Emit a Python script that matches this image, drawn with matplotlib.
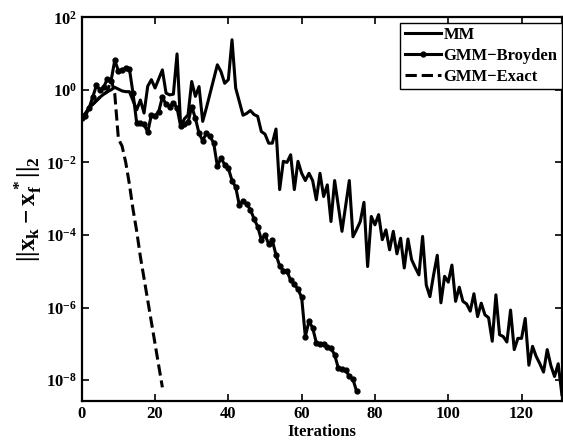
import matplotlib
matplotlib.use("Agg")
import matplotlib.pyplot as plt
import numpy as np

plt.rcParams['font.family'] = 'Liberation Serif'
plt.rcParams['font.weight'] = 'bold'
plt.rcParams['mathtext.fontset'] = 'custom'
plt.rcParams['mathtext.rm'] = 'Liberation Serif:bold'
plt.rcParams['mathtext.it'] = 'Liberation Serif:bold'
plt.rcParams['mathtext.bf'] = 'Liberation Serif:bold'

# log10 of the error
mm_log10 = [-0.77, -0.65, -0.5, -0.4, -0.3, -0.2, -0.12, -0.05, 0.0, 0.07,
            0.02, -0.03, -0.05, -0.05, -0.3, -0.55, -0.28, -0.64, 0.1, 0.28,
            0.05, 0.3, 0.55, -0.09, -0.14, -0.12, 0.99, -1.01, -0.8, -0.69,
            0.23, -0.18, 0.09, -0.87, -0.5, -0.1, 0.3, 0.69, 0.5, 0.18,
            0.28, 1.38, 0.05, -0.32, -0.7, -0.65, -0.57, -0.68, -0.73, -1.15,
            -1.22, -1.47, -1.47, -1.08, -2.75, -1.97, -2.0, -1.79, -2.75, -1.97,
            -2.3, -2.5, -2.3, -2.5, -3.03, -2.3, -2.94, -2.62, -3.63, -2.5,
            -3.2, -3.9, -3.2, -2.5, -4.05, -3.85, -3.63, -3.1, -4.87, -3.49,
            -3.72, -3.44, -4.13, -3.86, -4.41, -3.9, -4.52, -4.09, -4.91, -4.11,
            -4.68, -4.9, -5.1, -4.04, -5.38, -5.7, -5.1, -4.56, -5.87, -5.14,
            -5.3, -4.83, -5.83, -5.44, -5.83, -5.9, -6.1, -5.62, -6.25, -5.88,
            -6.2, -6.28, -6.93, -5.65, -6.75, -6.8, -6.95, -6.07, -7.16, -6.85,
            -6.85, -6.3, -7.59, -7.07, -7.35, -7.55, -7.78, -7.16, -7.6, -7.9,
            -7.55, -8.4]

broyden_log10 = [-0.78, -0.72, -0.5, -0.2, 0.12, 0.0, 0.08, 0.3, 0.25, 0.81,
                 0.53, 0.55, 0.6, 0.58, -0.1, -0.92, -0.92, -0.95, -1.17, -0.69,
                 -0.72, -0.6, -0.2, -0.4, -0.46, -0.35, -0.5, -1.01, -0.95, -0.9,
                 -0.46, -0.78, -1.2, -1.4, -1.2, -1.28, -1.47, -2.1, -1.88, -2.06,
                 -2.16, -2.5, -2.68, -3.18, -3.06, -3.15, -3.3, -3.55, -3.77, -4.13,
                 -4.0, -4.25, -4.15, -4.55, -4.85, -4.98, -5.0, -5.25, -5.35, -5.5,
                 -5.72, -6.8, -6.38, -6.56, -6.97, -7.0, -7.0, -7.1, -7.12, -7.3,
                 -7.67, -7.7, -7.72, -7.9, -7.98, -8.31]

exact_log10 = [-0.77, -0.65, -0.5, -0.4, -0.3, -0.2, -0.12, -0.05, 0.3, -0.1,
               -1.35, -1.55, -2.0, -2.6, -3.3, -3.9, -4.6, -5.2, -5.8, -6.4,
               -7.0, -7.6, -8.2]

mm = 10.0 ** np.array(mm_log10)
broyden = 10.0 ** np.array(broyden_log10)
exact = 10.0 ** np.array(exact_log10)

fig = plt.figure(figsize=(5.63, 4.43), dpi=100)
ax = fig.add_axes([0.1452, 0.0937, 0.8528, 0.8673])

ax.semilogy(range(len(mm)), mm, 'k-', lw=2.2, label='MM')
ax.semilogy(range(len(broyden)), broyden, 'k.-', lw=2.2, ms=7, label='GMM\u2212Broyden')
ax.semilogy(range(len(exact)), exact, 'k--', lw=2.2, label='GMM\u2212Exact')

ax.set_xlim(0, 131)
ax.set_ylim(10 ** -8.59, 1e2)
ax.set_xticks([0, 20, 40, 60, 80, 100, 120])
ax.set_yticks([1e-8, 1e-6, 1e-4, 1e-2, 1e0, 1e2])
ax.minorticks_off()
ax.tick_params(direction='in', top=True, right=True, labelsize=12, width=1.2, length=5)
for s in ax.spines.values():
    s.set_linewidth(1.6)

ax.set_xlabel('Iterations', fontsize=12, fontweight='bold', labelpad=1)
ax.set_ylabel(r'$||\mathbf{x_k - x_f^*}||_2$', fontsize=18, labelpad=1)

leg = ax.legend(loc='upper right', bbox_to_anchor=(1.0, 0.985), fontsize=12,
                fancybox=False, framealpha=1, edgecolor='black',
                handlelength=2.2, handletextpad=0.15, borderaxespad=0,
                labelspacing=0.3, borderpad=0.25)
leg.get_frame().set_linewidth(1.0)

plt.savefig('out.png', dpi=100)
